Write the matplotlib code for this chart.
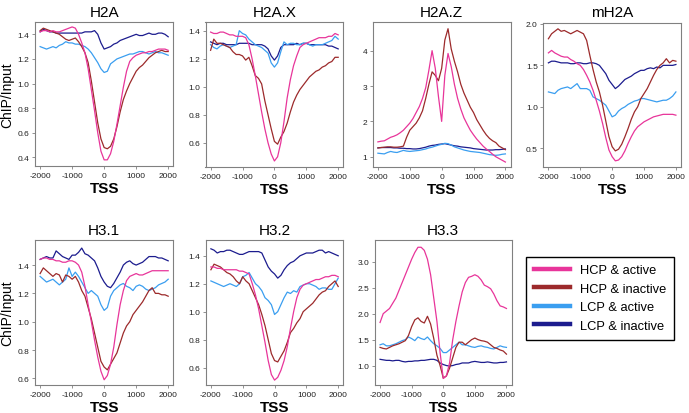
import matplotlib
matplotlib.use("Agg")
import matplotlib.pyplot as plt

plt.rcParams["font.family"] = "Liberation Sans"
plt.rcParams["axes.unicode_minus"] = False

# distance from TSS (bp), one value every 100 bp
POSITIONS = list(range(-2000, 2001, 100))

SERIES_LABELS = ["HCP & active", "HCP & inactive", "LCP & active", "LCP & inactive"]
SERIES_COLORS = ["#E8359A", "#9C2A2B", "#3A9EF0", "#1C1C8E"]

H2A_HCP_ACT = [1.42, 1.43, 1.43, 1.42, 1.43, 1.42, 1.42, 1.43, 1.44, 1.45,
               1.46, 1.45, 1.40, 1.33, 1.25, 1.12, 0.95, 0.78, 0.60, 0.45,
               0.38, 0.38, 0.43, 0.53, 0.67, 0.82, 0.97, 1.10, 1.18, 1.21,
               1.23, 1.24, 1.25, 1.25, 1.26, 1.26, 1.27, 1.28, 1.28, 1.28, 1.27]
H2A_HCP_INACT = [1.43, 1.45, 1.44, 1.43, 1.42, 1.41, 1.40, 1.38, 1.36, 1.35,
                 1.36, 1.37, 1.34, 1.30, 1.25, 1.17, 1.02, 0.85, 0.68, 0.55,
                 0.48, 0.47, 0.49, 0.55, 0.65, 0.77, 0.87, 0.94, 1.00, 1.05,
                 1.10, 1.13, 1.15, 1.18, 1.21, 1.23, 1.25, 1.26, 1.27, 1.26, 1.26]
H2A_LCP_ACT = [1.30, 1.29, 1.28, 1.29, 1.30, 1.29, 1.31, 1.32, 1.34, 1.33,
               1.33, 1.32, 1.32, 1.31, 1.30, 1.28, 1.25, 1.21, 1.17, 1.12,
               1.09, 1.10, 1.16, 1.18, 1.20, 1.21, 1.22, 1.23, 1.24, 1.24,
               1.25, 1.26, 1.26, 1.25, 1.24, 1.25, 1.26, 1.25, 1.25, 1.24, 1.23]
H2A_LCP_INACT = [1.42, 1.44, 1.43, 1.42, 1.42, 1.41, 1.41, 1.41, 1.41, 1.41,
                 1.41, 1.41, 1.41, 1.41, 1.42, 1.42, 1.42, 1.43, 1.40, 1.33,
                 1.28, 1.29, 1.30, 1.32, 1.33, 1.35, 1.36, 1.37, 1.38, 1.39,
                 1.40, 1.39, 1.39, 1.40, 1.41, 1.40, 1.40, 1.41, 1.41, 1.40, 1.38]

H2AX_HCP_ACT = [1.39, 1.38, 1.38, 1.39, 1.39, 1.38, 1.37, 1.37, 1.36, 1.36,
                1.36, 1.35, 1.30, 1.20, 1.08, 0.95, 0.82, 0.70, 0.60, 0.52,
                0.47, 0.50, 0.60, 0.75, 0.92, 1.05, 1.15, 1.22, 1.28, 1.30,
                1.31, 1.32, 1.33, 1.34, 1.35, 1.35, 1.35, 1.36, 1.36, 1.38, 1.37]
H2AX_HCP_INACT = [1.26, 1.34, 1.31, 1.31, 1.30, 1.29, 1.28, 1.25, 1.23, 1.23,
                  1.22, 1.19, 1.21, 1.15, 1.08, 1.06, 1.02, 0.90, 0.80, 0.70,
                  0.61, 0.59, 0.64, 0.68, 0.74, 0.82, 0.89, 0.94, 0.98, 1.01,
                  1.04, 1.07, 1.09, 1.11, 1.12, 1.14, 1.15, 1.17, 1.18, 1.21, 1.21]
H2AX_LCP_ACT = [1.30, 1.28, 1.27, 1.29, 1.30, 1.29, 1.28, 1.29, 1.30, 1.40,
                1.38, 1.37, 1.34, 1.32, 1.30, 1.29, 1.28, 1.26, 1.24, 1.17,
                1.14, 1.17, 1.25, 1.32, 1.30, 1.31, 1.31, 1.30, 1.30, 1.31,
                1.31, 1.30, 1.29, 1.30, 1.30, 1.30, 1.31, 1.32, 1.33, 1.36, 1.34]
H2AX_LCP_INACT = [1.32, 1.31, 1.30, 1.31, 1.31, 1.30, 1.30, 1.30, 1.30, 1.31,
                  1.31, 1.31, 1.31, 1.30, 1.30, 1.30, 1.30, 1.29, 1.27, 1.22,
                  1.19, 1.22, 1.28, 1.30, 1.30, 1.30, 1.30, 1.31, 1.30, 1.31,
                  1.31, 1.30, 1.30, 1.30, 1.30, 1.30, 1.30, 1.29, 1.29, 1.28, 1.27]

H2AZ_HCP_ACT = [1.42, 1.44, 1.45, 1.50, 1.55, 1.58, 1.62, 1.68, 1.75, 1.85,
                1.95, 2.08, 2.25, 2.42, 2.65, 2.95, 3.45, 4.00, 3.50, 2.70,
                2.00, 3.30, 3.92, 3.55, 3.05, 2.65, 2.35, 2.10, 1.92, 1.75,
                1.62, 1.50, 1.40, 1.30, 1.22, 1.15, 1.07, 1.00, 0.95, 0.90, 0.85]
H2AZ_HCP_INACT = [1.25, 1.26, 1.27, 1.28, 1.28, 1.27, 1.27, 1.28, 1.30, 1.55,
                  1.75, 1.85, 1.95, 2.10, 2.30, 2.65, 3.05, 3.40, 3.30, 3.15,
                  3.50, 4.30, 4.62, 4.05, 3.70, 3.40, 3.05, 2.80, 2.60, 2.40,
                  2.25, 2.05, 1.90, 1.75, 1.62, 1.52, 1.45, 1.40, 1.30, 1.25, 1.20]
H2AZ_LCP_ACT = [1.10, 1.09, 1.08, 1.12, 1.15, 1.13, 1.12, 1.15, 1.18, 1.16,
                1.15, 1.16, 1.17, 1.18, 1.20, 1.22, 1.25, 1.27, 1.30, 1.33,
                1.35, 1.38, 1.37, 1.33, 1.28, 1.25, 1.22, 1.19, 1.17, 1.15,
                1.14, 1.13, 1.12, 1.10, 1.08, 1.06, 1.05, 1.04, 1.05, 1.07, 1.08]
H2AZ_LCP_INACT = [1.25, 1.26, 1.26, 1.26, 1.26, 1.25, 1.25, 1.24, 1.24, 1.23,
                  1.23, 1.22, 1.22, 1.23, 1.25, 1.27, 1.30, 1.32, 1.33, 1.35,
                  1.36, 1.37, 1.35, 1.33, 1.31, 1.30, 1.28, 1.27, 1.26, 1.25,
                  1.23, 1.22, 1.21, 1.20, 1.19, 1.19, 1.19, 1.20, 1.20, 1.21, 1.22]

MH2A_HCP_ACT = [1.65, 1.68, 1.65, 1.63, 1.61, 1.60, 1.60, 1.57, 1.55, 1.52,
                1.50, 1.45, 1.38, 1.30, 1.20, 1.08, 0.95, 0.80, 0.63, 0.48,
                0.40, 0.35, 0.36, 0.40, 0.47, 0.56, 0.64, 0.71, 0.76, 0.79,
                0.82, 0.84, 0.86, 0.88, 0.89, 0.90, 0.91, 0.91, 0.91, 0.91, 0.90]
MH2A_HCP_INACT = [1.82, 1.88, 1.91, 1.94, 1.91, 1.92, 1.90, 1.88, 1.90, 1.92,
                  1.90, 1.88, 1.80, 1.62, 1.45, 1.30, 1.18, 1.02, 0.83, 0.64,
                  0.52, 0.47, 0.49, 0.55, 0.64, 0.74, 0.85, 0.94, 1.00, 1.10,
                  1.16, 1.22, 1.30, 1.38, 1.45, 1.50, 1.53, 1.58, 1.53, 1.56, 1.55]
MH2A_LCP_ACT = [1.18, 1.17, 1.16, 1.20, 1.22, 1.23, 1.24, 1.22, 1.25, 1.28,
                1.22, 1.22, 1.22, 1.20, 1.12, 1.10, 1.08, 1.05, 1.02, 0.95,
                0.88, 0.90, 0.95, 0.98, 1.00, 1.03, 1.05, 1.07, 1.08, 1.10,
                1.10, 1.09, 1.08, 1.07, 1.06, 1.07, 1.08, 1.08, 1.10, 1.13, 1.18]
MH2A_LCP_INACT = [1.53, 1.55, 1.55, 1.54, 1.53, 1.53, 1.53, 1.52, 1.52, 1.53,
                  1.53, 1.52, 1.52, 1.53, 1.53, 1.52, 1.50, 1.45, 1.40, 1.32,
                  1.27, 1.22, 1.25, 1.29, 1.33, 1.35, 1.37, 1.40, 1.42, 1.44,
                  1.44, 1.46, 1.47, 1.46, 1.48, 1.47, 1.50, 1.50, 1.50, 1.50, 1.51]

H31_HCP_ACT = [1.44, 1.45, 1.45, 1.44, 1.44, 1.43, 1.43, 1.42, 1.42, 1.43,
               1.43, 1.42, 1.40, 1.35, 1.25, 1.12, 1.00, 0.87, 0.75, 0.65,
               0.59, 0.62, 0.70, 0.82, 0.98, 1.12, 1.22, 1.29, 1.32, 1.33,
               1.34, 1.33, 1.33, 1.34, 1.35, 1.36, 1.36, 1.36, 1.36, 1.36, 1.36]
H31_HCP_INACT = [1.34, 1.38, 1.36, 1.34, 1.32, 1.34, 1.33, 1.28, 1.33, 1.32,
                 1.30, 1.32, 1.28, 1.22, 1.18, 1.10, 1.02, 0.92, 0.82, 0.72,
                 0.68, 0.66, 0.70, 0.74, 0.78, 0.85, 0.92, 0.97, 1.00, 1.05,
                 1.08, 1.11, 1.14, 1.18, 1.22, 1.24, 1.20, 1.20, 1.19, 1.19, 1.18]
H31_LCP_ACT = [1.32, 1.30, 1.28, 1.29, 1.30, 1.28, 1.26, 1.28, 1.30, 1.38,
               1.32, 1.35, 1.32, 1.28, 1.24, 1.20, 1.22, 1.20, 1.18, 1.12,
               1.08, 1.10, 1.18, 1.22, 1.24, 1.26, 1.27, 1.25, 1.24, 1.22,
               1.25, 1.26, 1.25, 1.23, 1.22, 1.23, 1.24, 1.26, 1.27, 1.28, 1.30]
H31_LCP_INACT = [1.44, 1.45, 1.46, 1.45, 1.45, 1.50, 1.48, 1.46, 1.45, 1.44,
                 1.47, 1.47, 1.49, 1.52, 1.48, 1.47, 1.45, 1.43, 1.38, 1.32,
                 1.28, 1.25, 1.24, 1.27, 1.31, 1.35, 1.40, 1.42, 1.43, 1.41,
                 1.40, 1.41, 1.42, 1.44, 1.46, 1.46, 1.46, 1.45, 1.45, 1.44, 1.43]

H32_HCP_ACT = [1.32, 1.32, 1.31, 1.31, 1.30, 1.30, 1.30, 1.30, 1.30, 1.29,
               1.29, 1.28, 1.27, 1.20, 1.12, 1.02, 0.90, 0.78, 0.65, 0.55,
               0.51, 0.53, 0.58, 0.65, 0.75, 0.88, 1.00, 1.10, 1.16, 1.19,
               1.20, 1.21, 1.22, 1.23, 1.23, 1.24, 1.25, 1.25, 1.26, 1.26, 1.25]
H32_HCP_INACT = [1.30, 1.34, 1.33, 1.32, 1.30, 1.28, 1.27, 1.25, 1.22, 1.20,
                 1.25, 1.22, 1.20, 1.15, 1.10, 1.05, 0.98, 0.90, 0.80, 0.70,
                 0.65, 0.64, 0.68, 0.72, 0.78, 0.85, 0.88, 0.92, 0.95, 1.00,
                 1.02, 1.04, 1.06, 1.09, 1.12, 1.14, 1.15, 1.18, 1.20, 1.22, 1.18]
H32_LCP_ACT = [1.22, 1.21, 1.20, 1.19, 1.18, 1.19, 1.20, 1.19, 1.18, 1.20,
               1.25, 1.26, 1.28, 1.24, 1.20, 1.18, 1.15, 1.10, 1.08, 1.05,
               0.98, 1.00, 1.05, 1.10, 1.14, 1.13, 1.15, 1.14, 1.18, 1.19,
               1.20, 1.20, 1.19, 1.18, 1.16, 1.17, 1.17, 1.16, 1.16, 1.20, 1.24]
H32_LCP_INACT = [1.45, 1.44, 1.42, 1.43, 1.43, 1.44, 1.44, 1.43, 1.42, 1.41,
                 1.41, 1.42, 1.43, 1.43, 1.43, 1.43, 1.42, 1.37, 1.32, 1.29,
                 1.27, 1.24, 1.26, 1.30, 1.33, 1.35, 1.36, 1.38, 1.40, 1.41,
                 1.42, 1.42, 1.42, 1.43, 1.44, 1.44, 1.42, 1.43, 1.42, 1.41, 1.40]

H33_HCP_ACT = [1.83, 2.00, 2.05, 2.10, 2.20, 2.30, 2.45, 2.60, 2.75, 2.90,
               3.05, 3.18, 3.28, 3.28, 3.22, 3.05, 2.75, 2.30, 1.85, 1.25,
               0.75, 0.80, 1.05, 1.50, 1.85, 2.15, 2.42, 2.60, 2.70, 2.72,
               2.75, 2.72, 2.65, 2.55, 2.52, 2.48, 2.38, 2.25, 2.15, 2.13, 2.10]
H33_HCP_INACT = [1.35, 1.33, 1.32, 1.35, 1.38, 1.40, 1.42, 1.45, 1.48, 1.58,
                 1.75, 1.88, 1.92, 1.85, 1.82, 1.95, 1.80, 1.52, 1.20, 1.00,
                 0.76, 0.80, 0.95, 1.15, 1.35, 1.45, 1.45, 1.40, 1.45, 1.50,
                 1.53, 1.50, 1.48, 1.47, 1.45, 1.40, 1.35, 1.33, 1.30, 1.28, 1.22]
H33_LCP_ACT = [1.40, 1.42, 1.38, 1.38, 1.40, 1.42, 1.45, 1.48, 1.50, 1.55,
               1.52, 1.48, 1.55, 1.52, 1.50, 1.55, 1.48, 1.42, 1.38, 1.33,
               1.25, 1.25, 1.30, 1.35, 1.40, 1.45, 1.40, 1.40, 1.38, 1.36,
               1.35, 1.37, 1.38, 1.36, 1.35, 1.33, 1.32, 1.35, 1.38, 1.36, 1.35]
H33_LCP_INACT = [1.12, 1.11, 1.10, 1.10, 1.09, 1.10, 1.10, 1.08, 1.07, 1.08,
                 1.08, 1.09, 1.09, 1.10, 1.10, 1.11, 1.12, 1.12, 1.10, 1.05,
                 1.02, 1.00, 0.99, 1.00, 1.02, 1.03, 1.05, 1.05, 1.05, 1.07,
                 1.08, 1.07, 1.06, 1.06, 1.07, 1.06, 1.05, 1.05, 1.06, 1.06, 1.07]

X_TICKS = [-2000, -1000, 0, 1000, 2000]

FIG_W, FIG_H = 689, 414


def px_rect(left, top, right, bottom):
    """Axes rect from pixel edges (origin top-left)."""
    return [left / FIG_W, 1 - bottom / FIG_H, (right - left) / FIG_W, (bottom - top) / FIG_H]


# title, series, ylim, yticks, tick format, pixel box, show ylabel
panels = [
    ("H2A", (H2A_HCP_ACT, H2A_HCP_INACT, H2A_LCP_ACT, H2A_LCP_INACT),
     (0.33, 1.50), [0.4, 0.6, 0.8, 1.0, 1.2, 1.4], "{:.1f}", (35, 23, 173.3, 167), True),
    ("H2A.X", (H2AX_HCP_ACT, H2AX_HCP_INACT, H2AX_LCP_ACT, H2AX_LCP_INACT),
     (0.427, 1.462), [0.6, 0.8, 1.0, 1.2, 1.4], "{:.1f}", (205.5, 23, 343.3, 168), False),
    ("H2A.Z", (H2AZ_HCP_ACT, H2AZ_HCP_INACT, H2AZ_LCP_ACT, H2AZ_LCP_INACT),
     (0.71, 4.81), [1, 2, 3, 4], "{:.0f}", (372.8, 23, 510.5, 168), False),
    ("mH2A", (MH2A_HCP_ACT, MH2A_HCP_INACT, MH2A_LCP_ACT, MH2A_LCP_INACT),
     (0.276, 2.016), [0.5, 1.0, 1.5, 2.0], "{:.1f}", (543.3, 23.5, 681, 168), False),
    ("H3.1", (H31_HCP_ACT, H31_HCP_INACT, H31_LCP_ACT, H31_LCP_INACT),
     (0.553, 1.577), [0.6, 0.8, 1.0, 1.2, 1.4], "{:.1f}", (35, 241, 173.3, 386), True),
    ("H3.2", (H32_HCP_ACT, H32_HCP_INACT, H32_LCP_ACT, H32_LCP_INACT),
     (0.475, 1.513), [0.6, 0.8, 1.0, 1.2, 1.4], "{:.1f}", (205.8, 241, 343.3, 386), False),
    ("H3.3", (H33_HCP_ACT, H33_HCP_INACT, H33_LCP_ACT, H33_LCP_INACT),
     (0.625, 3.42), [1.0, 1.5, 2.0, 2.5, 3.0], "{:.1f}", (375, 241, 511.5, 386), False),
]

fig = plt.figure(figsize=(FIG_W / 100, FIG_H / 100), dpi=100)

handles = []
for title, series, ylim, yticks, fmt, box, show_ylabel in panels:
    ax = fig.add_axes(px_rect(*box))
    # draw LCP first so the HCP curves sit on top
    for values, label, color in reversed(list(zip(series, SERIES_LABELS, SERIES_COLORS))):
        assert len(values) == len(POSITIONS), title
        line, = ax.plot(POSITIONS, values, color=color, lw=0.9, label=label)
        if len(handles) < 4:
            handles.append(line)
    ax.set_xlim(-2160, 2160)
    ax.set_ylim(*ylim)
    ax.set_xticks(X_TICKS)
    ax.set_xticklabels([str(t) for t in X_TICKS])
    ax.set_yticks(yticks)
    ax.set_yticklabels([fmt.format(t) for t in yticks])
    ax.tick_params(length=2.5, width=0.6, color="#808080", pad=1.5,
                   labelsize=6, labelcolor="#222222")
    for spine in ax.spines.values():
        spine.set_color("#808080")
        spine.set_linewidth(0.8)
    ax.set_title(title, fontsize=11, pad=4.5)
    ax.set_xlabel("TSS", fontsize=11, fontweight="bold", labelpad=1.5)
    if show_ylabel:
        ax.set_ylabel("ChIP/Input", fontsize=10, labelpad=2.5)

handles = handles[::-1]
legend = fig.legend(handles, SERIES_LABELS, loc="upper left",
                    bbox_to_anchor=(526 / FIG_W, 1 - 257.7 / FIG_H),
                    fontsize=9.3, frameon=True, fancybox=False, framealpha=1,
                    edgecolor="black", borderaxespad=0, borderpad=0.6,
                    labelspacing=0.5, handlelength=2.8, handletextpad=0.8)
legend.get_frame().set_linewidth(1.0)
for legline in legend.get_lines():
    legline.set_linewidth(3.2)

fig.savefig("out.png", dpi=100)
